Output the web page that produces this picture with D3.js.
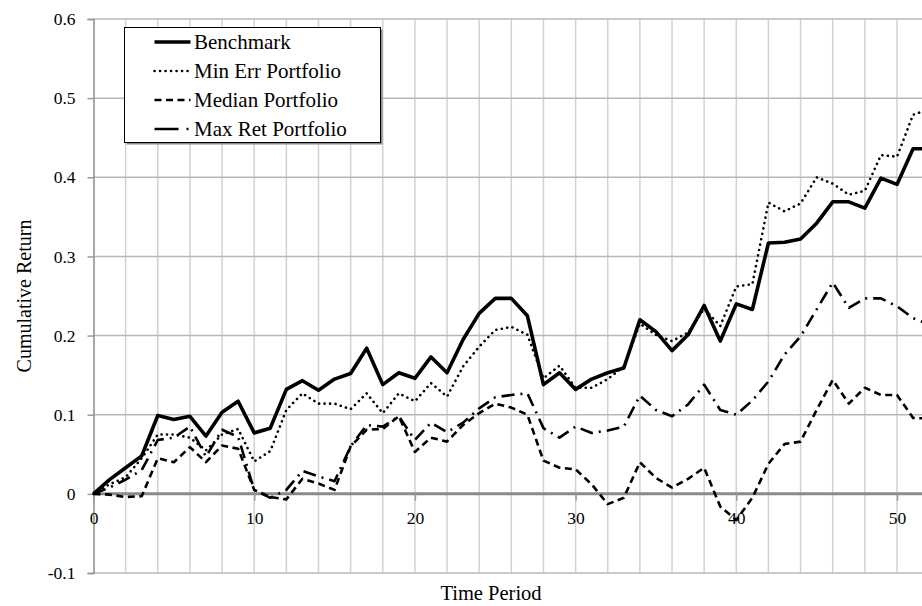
<!DOCTYPE html>
<html>
<head>
<meta charset="utf-8">
<script src="https://cdn.jsdelivr.net/npm/d3@7"></script>
<style>
  body { margin: 0; background: #fff; }
  svg { display: block; font-family: "Liberation Serif", "DejaVu Serif", serif; }
</style>
</head>
<body>
<svg id="chart" width="922" height="606"></svg>
<script>
// time periods 0..52
const periods = d3.range(0, 53);

const benchmark = [0, 0.018, 0.033, 0.048, 0.099, 0.094, 0.098, 0.073, 0.103, 0.117,
  0.077, 0.083, 0.132, 0.143, 0.131, 0.145, 0.152, 0.184, 0.138, 0.153,
  0.146, 0.173, 0.153, 0.195, 0.228, 0.247, 0.247, 0.225, 0.138, 0.153,
  0.132, 0.145, 0.153, 0.159, 0.220, 0.205, 0.181, 0.201, 0.238, 0.193,
  0.240, 0.233, 0.317, 0.318, 0.322, 0.342, 0.369, 0.369, 0.361, 0.399,
  0.391, 0.436, 0.436];

const minErr = [0, 0.012, 0.021, 0.045, 0.075, 0.075, 0.071, 0.055, 0.075, 0.082,
  0.041, 0.054, 0.106, 0.127, 0.114, 0.114, 0.107, 0.127, 0.102, 0.127,
  0.117, 0.140, 0.123, 0.161, 0.186, 0.207, 0.211, 0.201, 0.146, 0.162,
  0.134, 0.134, 0.145, 0.161, 0.215, 0.201, 0.193, 0.204, 0.234, 0.212,
  0.262, 0.265, 0.368, 0.357, 0.367, 0.400, 0.392, 0.378, 0.383, 0.428,
  0.426, 0.479, 0.486];

const median = [0, -0.001, -0.004, -0.003, 0.045, 0.040, 0.059, 0.040, 0.061, 0.057,
  0.005, -0.004, -0.007, 0.019, 0.013, 0.005, 0.060, 0.081, 0.082, 0.098,
  0.053, 0.071, 0.066, 0.087, 0.102, 0.114, 0.109, 0.100, 0.042, 0.033,
  0.031, 0.012, -0.013, -0.005, 0.040, 0.020, 0.008, 0.019, 0.033, -0.016,
  -0.033, -0.005, 0.038, 0.063, 0.066, 0.106, 0.144, 0.114, 0.134, 0.125,
  0.125, 0.096, 0.095];

const maxRet = [0, 0.008, 0.018, 0.030, 0.068, 0.071, 0.085, 0.047, 0.081, 0.072,
  0.005, -0.005, 0.005, 0.029, 0.022, 0.016, 0.060, 0.087, 0.085, 0.098,
  0.068, 0.090, 0.078, 0.090, 0.108, 0.122, 0.125, 0.127, 0.083, 0.071,
  0.085, 0.077, 0.080, 0.085, 0.124, 0.106, 0.098, 0.113, 0.138, 0.106,
  0.100, 0.118, 0.142, 0.176, 0.199, 0.233, 0.267, 0.235, 0.247, 0.247,
  0.237, 0.222, 0.214];

const seriesNames = ["Benchmark", "Min Err Portfolio", "Median Portfolio", "Max Ret Portfolio"];
const yTicks = [-0.1, 0, 0.1, 0.2, 0.3, 0.4, 0.5, 0.6];
const xTicks = [0, 10, 20, 30, 40, 50];
const xGrid = d3.range(2, 53, 2);

// line styles per series
const styles = [
  { width: 3.6, dash: null, cap: "butt" },
  { width: 2.6, dash: "0.1,5.4", cap: "round" },
  { width: 2.6, dash: "7,4.5", cap: "butt" },
  { width: 2.6, dash: "13,6,2,6", cap: "butt" }
];
const allSeries = [benchmark, minErr, median, maxRet];
const serif = "Liberation Serif, DejaVu Serif, serif";

const svg = d3.select("#chart");
svg.append("rect").attr("width", 922).attr("height", 606).attr("fill", "#fff");

const plotLeft = 93.5, plotTop = 19, plotBottom = 573;
const x = d3.scaleLinear().domain([0, 52]).range([plotLeft, plotLeft + 52 * 16.07]);
const y = d3.scaleLinear().domain([-0.1, 0.6]).range([plotBottom, plotTop]);

// vertical grid
svg.append("g").selectAll("line").data(xGrid).join("line")
  .attr("x1", d => x(d)).attr("x2", d => x(d))
  .attr("y1", plotTop).attr("y2", plotBottom)
  .attr("stroke", "#d2d2d2").attr("stroke-width", 1.5);

// horizontal grid
svg.append("g").selectAll("line").data(yTicks.filter(d => d !== 0)).join("line")
  .attr("x1", plotLeft).attr("x2", 922)
  .attr("y1", d => y(d)).attr("y2", d => y(d))
  .attr("stroke", "#b8b8b8").attr("stroke-width", 1.5);

// y axis
const yAxis = svg.append("g")
  .attr("transform", `translate(${plotLeft},0)`)
  .call(d3.axisLeft(y).tickValues(yTicks).tickSize(6).tickPadding(12)
    .tickFormat(d => d === 0 ? "0" : d.toFixed(1)))
  .attr("font-family", serif).attr("font-size", 17.5);
yAxis.select(".domain").attr("stroke", "#8c8c8c").attr("stroke-width", 1.5);
yAxis.selectAll(".tick line").attr("stroke", "#9a9a9a").attr("stroke-width", 1.5);
yAxis.selectAll(".tick text").attr("fill", "#000");

// x axis at y = 0
const xAxis = svg.append("g")
  .attr("transform", `translate(0,${y(0)})`)
  .call(d3.axisBottom(x).tickValues(xTicks).tickSize(7).tickPadding(11).tickSizeOuter(0))
  .attr("font-family", serif).attr("font-size", 17.5);
xAxis.select(".domain").attr("d", `M${plotLeft},0H922`)
  .attr("stroke", "#8a8a8a").attr("stroke-width", 3);
xAxis.selectAll(".tick line").attr("stroke", "#9a9a9a").attr("stroke-width", 1.5);
xAxis.selectAll(".tick text").attr("fill", "#000");

// series lines
const line = d3.line().x((d, i) => x(periods[i])).y(d => y(d));
svg.append("g").selectAll("path").data(allSeries).join("path")
  .attr("d", line)
  .attr("fill", "none")
  .attr("stroke", "#000")
  .attr("stroke-width", (d, i) => styles[i].width)
  .attr("stroke-dasharray", (d, i) => styles[i].dash)
  .attr("stroke-linecap", (d, i) => styles[i].cap)
  .attr("stroke-linejoin", "round");

// axis titles
svg.append("text")
  .attr("x", 491).attr("y", 600)
  .attr("text-anchor", "middle")
  .style("font-size", "20.5px")
  .text("Time Period");

svg.append("text")
  .attr("transform", `translate(31,${(plotTop + plotBottom) / 2}) rotate(-90)`)
  .attr("text-anchor", "middle")
  .style("font-size", "20px")
  .text("Cumulative Return");

// legend
const lg = svg.append("g").attr("transform", "translate(124.5,27.5)");
lg.append("rect").attr("x", 2).attr("y", 2).attr("width", 256).attr("height", 115).attr("fill", "#8a8a8a");
lg.append("rect").attr("width", 256).attr("height", 115).attr("fill", "#fff").attr("stroke", "#000").attr("stroke-width", 1);

const rows = lg.selectAll("g.row").data(seriesNames).join("g")
  .attr("class", "row")
  .attr("transform", (d, i) => `translate(0,${14.5 + i * 29})`);
rows.append("line")
  .attr("x1", 30).attr("x2", 66).attr("y1", 0).attr("y2", 0)
  .attr("stroke", "#000")
  .attr("stroke-width", (d, i) => styles[i].width)
  .attr("stroke-dasharray", (d, i) => i === 3 ? "24,8,2,8" : styles[i].dash)
  .attr("stroke-linecap", (d, i) => styles[i].cap);
rows.append("text")
  .attr("x", 69.5).attr("y", 0).attr("dy", "0.35em")
  .style("font-size", "21px")
  .text(d => d);
</script>
</body>
</html>
